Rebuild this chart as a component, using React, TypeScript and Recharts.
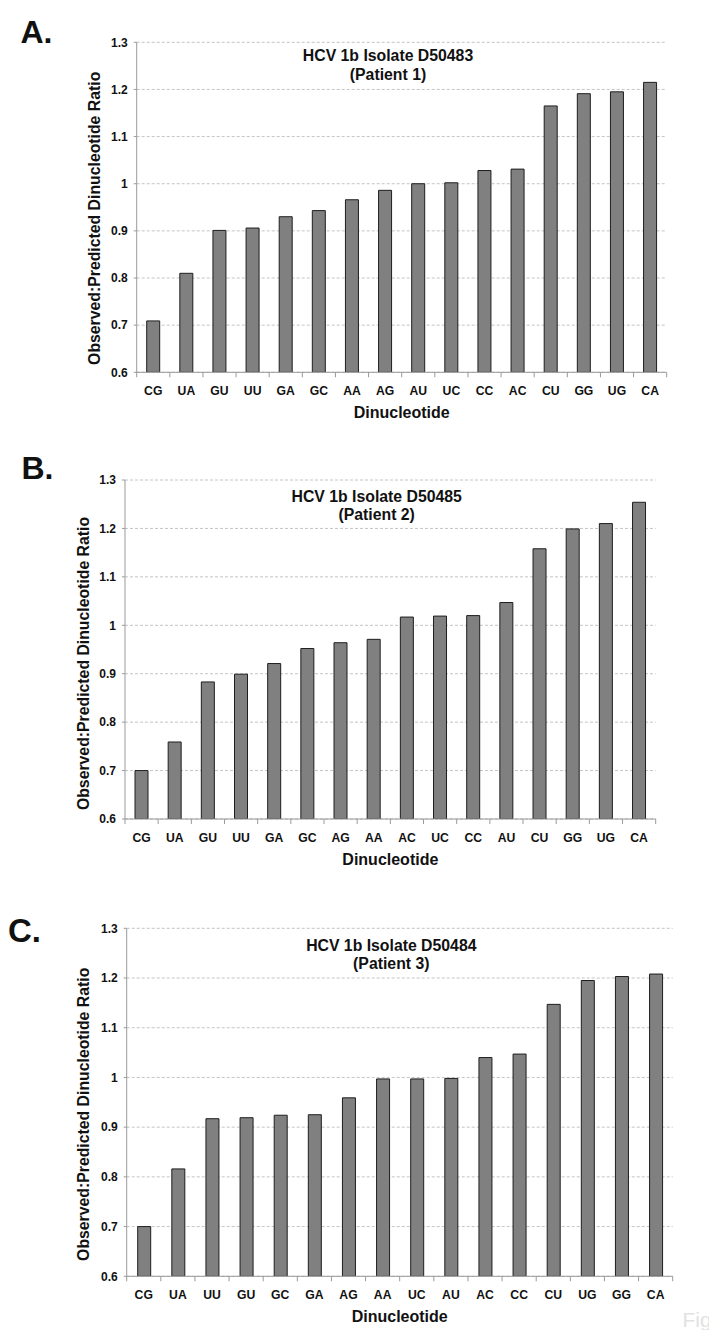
import React from 'react';
import { BarChart, Bar, XAxis, YAxis, CartesianGrid } from 'recharts';

const catsA = ['CG', 'UA', 'GU', 'UU', 'GA', 'GC', 'AA', 'AG', 'AU', 'UC', 'CC', 'AC', 'CU', 'GG', 'UG', 'CA'];
const valsA = [0.709, 0.81, 0.901, 0.906, 0.93, 0.943, 0.966, 0.986, 1.0, 1.002, 1.028, 1.031, 1.165, 1.191, 1.195, 1.215];

const catsB = ['CG', 'UA', 'GU', 'UU', 'GA', 'GC', 'AG', 'AA', 'AC', 'UC', 'CC', 'AU', 'CU', 'GG', 'UG', 'CA'];
const valsB = [0.7, 0.759, 0.883, 0.899, 0.921, 0.952, 0.964, 0.971, 1.017, 1.019, 1.02, 1.047, 1.158, 1.199, 1.21, 1.254];

const catsC = ['CG', 'UA', 'UU', 'GU', 'GC', 'GA', 'AG', 'AA', 'UC', 'AU', 'AC', 'CC', 'CU', 'UG', 'GG', 'CA'];
const valsC = [0.7, 0.816, 0.917, 0.919, 0.924, 0.925, 0.959, 0.997, 0.997, 0.998, 1.04, 1.047, 1.147, 1.195, 1.203, 1.208];

const yTicks = [0.6, 0.7, 0.8, 0.9, 1, 1.1, 1.2, 1.3];
const titleLines = ['HCV 1b Isolate D50483', 'HCV 1b Isolate D50485', 'HCV 1b Isolate D50484'];
const patientLines = ['(Patient 1)', '(Patient 2)', '(Patient 3)'];
const panelLetters = ['A.', 'B.', 'C.'];
const xLabel = 'Dinucleotide';
const yLabel = 'Observed:Predicted Dinucleotide Ratio';

const FONT = '"Liberation Sans", Arial, Helvetica, sans-serif';
const W = 709;
const Y_AXIS_W = 50;
const X_AXIS_H = 50;
const TICK_MARGIN = 14;

type PanelProps = {
  cats: string[];
  vals: number[];
  top: number;
  height: number;
  plotLeft: number;
  plotRight: number;
  plotTop: number;
  plotBottom: number;
  yLabelX: number;
  yLabelShift: number;
};

function Panel(p: PanelProps) {
  const data = p.cats.map((c, i) => ({ cat: c, v: p.vals[i] }));
  const bw = (p.plotRight - p.plotLeft) / p.cats.length;
  const localBottom = p.plotBottom - p.top;
  const localTop = p.plotTop - p.top;
  const n = p.cats.length;

  const renderTick = (props: any) => {
    const { x, payload, index } = props;
    const axisY = localBottom;
    return (
      <g>
        <line x1={x - bw / 2} x2={x - bw / 2} y1={axisY} y2={axisY + 5} stroke="#9a9a9a" strokeWidth={1} />
        {index === n - 1 ? (
          <line x1={x + bw / 2} x2={x + bw / 2} y1={axisY} y2={axisY + 5} stroke="#9a9a9a" strokeWidth={1} />
        ) : null}
        <text x={x} y={axisY + 22.7} textAnchor="middle" fontFamily={FONT} fontWeight="bold" fontSize={12.2} fill="#111">
          {payload.value}
        </text>
      </g>
    );
  };

  const xLabelContent = () => (
    <text
      x={(p.plotLeft + p.plotRight) / 2}
      y={localBottom + 46}
      textAnchor="middle"
      fontFamily={FONT}
      fontWeight="bold"
      fontSize={16}
      fill="#111"
    >
      {xLabel}
    </text>
  );

  const cy = (localTop + localBottom) / 2 + p.yLabelShift;
  const yLabelContent = () => (
    <text
      x={p.yLabelX}
      y={cy}
      transform={`rotate(-90 ${p.yLabelX} ${cy})`}
      textAnchor="middle"
      fontFamily={FONT}
      fontWeight="bold"
      fontSize={15.8}
      fill="#111"
    >
      {yLabel}
    </text>
  );

  return (
    <div style={{ position: 'absolute', left: 0, top: p.top, width: W, height: p.height }}>
      <BarChart
        width={W}
        height={p.height}
        data={data}
        margin={{
          left: p.plotLeft - Y_AXIS_W,
          right: W - p.plotRight,
          top: p.plotTop - p.top,
          bottom: p.top + p.height - p.plotBottom - X_AXIS_H,
        }}
        barCategoryGap={0}
      >
        <CartesianGrid vertical={false} stroke="#c4c4c4" strokeDasharray="3 2" />
        <XAxis
          dataKey="cat"
          type="category"
          height={X_AXIS_H}
          tickLine={false}
          tickSize={0}
          tickMargin={TICK_MARGIN}
          axisLine={{ stroke: '#9a9a9a' }}
          interval={0}
          tick={renderTick}
          label={{ content: xLabelContent } as any}
        />
        <YAxis
          type="number"
          width={Y_AXIS_W}
          domain={[0.6, 1.3]}
          ticks={yTicks}
          allowDataOverflow
          interval={0}
          tickFormatter={(v: number) => String(Math.round(v * 10) / 10)}
          tick={{ fontFamily: FONT, fontWeight: 'bold', fontSize: 12, fill: '#111' }}
          tickSize={3}
          tickMargin={6}
          axisLine={{ stroke: '#9a9a9a' }}
          tickLine={{ stroke: '#9a9a9a' }}
          label={{ content: yLabelContent } as any}
        />
        <Bar dataKey="v" fill="#808080" stroke="#1e1e1e" strokeWidth={1} barSize={13} isAnimationActive={false} />
      </BarChart>
    </div>
  );
}

export default function App() {
  return (
    <div
      style={{
        position: 'absolute',
        left: 0,
        top: 0,
        width: W,
        height: 1330,
        overflow: 'hidden',
        background: '#fff',
        fontFamily: FONT,
      }}
    >
      <Panel cats={catsA} vals={valsA} top={0} height={430} plotLeft={136.7} plotRight={666.7} plotTop={42.3} plotBottom={372.3} yLabelX={100} yLabelShift={11} />
      <Panel cats={catsB} vals={valsB} top={440} height={440} plotLeft={125} plotRight={655.7} plotTop={480} plotBottom={819} yLabelX={89} yLabelShift={14} />
      <Panel cats={catsC} vals={valsC} top={890} height={440} plotLeft={126.7} plotRight={672.7} plotTop={928.3} plotBottom={1276.3} yLabelX={89} yLabelShift={12} />
      <svg width={W} height={1330} style={{ position: 'absolute', left: 0, top: 0, pointerEvents: 'none' }}>
        <g fontFamily={FONT} fontWeight="bold" fill="#111">
          <text x={20.5} y={42.7} fontSize={32}>{panelLetters[0]}</text>
          <text x={21.5} y={479.3} fontSize={32}>{panelLetters[1]}</text>
          <text x={8} y={942.3} fontSize={33}>{panelLetters[2]}</text>
          <text x={388} y={61.3} fontSize={15.8} textAnchor="middle">{titleLines[0]}</text>
          <text x={388} y={79.5} fontSize={15.8} textAnchor="middle">{patientLines[0]}</text>
          <text x={376.7} y={501.7} fontSize={15.8} textAnchor="middle">{titleLines[1]}</text>
          <text x={376.7} y={519.5} fontSize={15.8} textAnchor="middle">{patientLines[1]}</text>
          <text x={391.3} y={950.7} fontSize={15.8} textAnchor="middle">{titleLines[2]}</text>
          <text x={391.3} y={968.7} fontSize={15.8} textAnchor="middle">{patientLines[2]}</text>
        </g>
        <text x={682.5} y={1326.7} fontFamily={FONT} fontSize={21} fill="#e2e2e2">Fig</text>
      </svg>
    </div>
  );
}
